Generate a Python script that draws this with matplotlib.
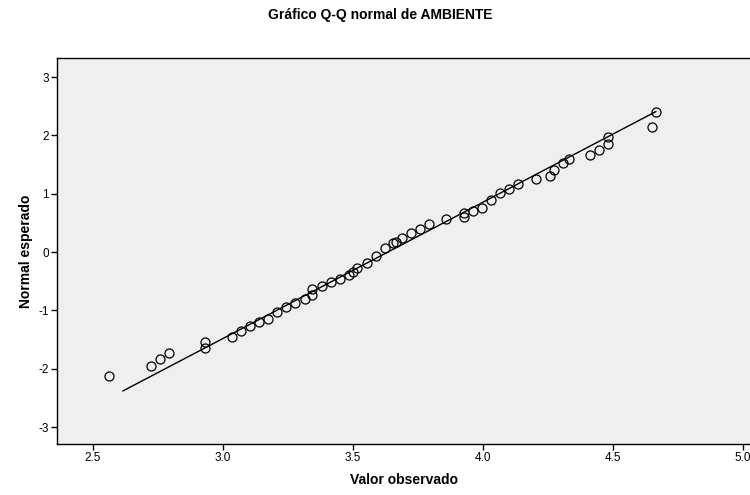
import matplotlib
matplotlib.use('Agg')
from matplotlib import pyplot as plt

### Data
# Observed values (x) and expected normal quantiles (y)
observed = [2.563, 2.724, 2.759, 2.793, 2.931, 2.931, 3.033, 3.069, 3.104, 3.138,
            3.173, 3.207, 3.241, 3.276, 3.315, 3.343, 3.343, 3.380, 3.414, 3.450,
            3.485, 3.499, 3.517, 3.553, 3.587, 3.622, 3.655, 3.664, 3.688, 3.723,
            3.758, 3.792, 3.858, 3.928, 3.928, 3.963, 3.997, 4.032, 4.067, 4.101,
            4.136, 4.205, 4.258, 4.274, 4.309, 4.331, 4.412, 4.446, 4.480, 4.480,
            4.651, 4.665]
expected = [-2.12, -1.955, -1.83, -1.73, -1.64, -1.54, -1.45, -1.36, -1.27, -1.205,
            -1.14, -1.03, -0.94, -0.87, -0.81, -0.74, -0.64, -0.58, -0.51, -0.46,
            -0.39, -0.34, -0.28, -0.19, -0.06, 0.07, 0.15, 0.17, 0.235, 0.32,
            0.39, 0.485, 0.57, 0.61, 0.67, 0.71, 0.76, 0.90, 1.02, 1.075,
            1.17, 1.26, 1.31, 1.41, 1.52, 1.59, 1.66, 1.75, 1.85, 1.98,
            2.15, 2.40]

# Reference line end points
line_x = [2.615, 4.665]
line_y = [-2.38, 2.41]

xticks = [2.5, 3.0, 3.5, 4.0, 4.5, 5.0]
yticks = [-3, -2, -1, 0, 1, 2, 3]

### Plot parameters
plt.rcParams['font.family'] = ['Liberation Sans', 'DejaVu Sans']
# Plain hyphen for negative tick labels
plt.rcParams['axes.unicode_minus'] = False

fig = plt.figure(figsize=(7.5, 4.95), dpi=100)
ax = fig.add_axes([0.076, 0.103, 0.924, 0.780])
ax.set_facecolor('#efefef')

# Reference line and points
ax.plot(line_x, line_y, color='black', linewidth=1.0, zorder=2)
ax.plot(observed, expected, linestyle='none', marker='o', markersize=6.5,
        markerfacecolor='none', markeredgecolor='black', markeredgewidth=0.9, zorder=3)

# Axis limits and ticks
ax.set_xlim(2.3615, 5.027)
ax.set_ylim(-3.29, 3.33)
ax.set_xticks(xticks)
ax.set_xticklabels(['%.1f' % t for t in xticks])
ax.set_yticks(yticks)
ax.tick_params(direction='out', length=4, width=1, labelsize=8.5, colors='black', pad=2)

# Spines
for side in ['left', 'bottom', 'top']:
    ax.spines[side].set_linewidth(1.0)
    ax.spines[side].set_color('black')
ax.spines['right'].set_visible(False)

# Labels and title
ax.set_xlabel('Valor observado', fontsize=10, fontweight='bold', labelpad=6)
ax.set_ylabel('Normal esperado', fontsize=10, fontweight='bold', labelpad=4)
fig.text(0.507, 0.97, 'Gráfico Q-Q normal de AMBIENTE', ha='center', va='center',
         fontsize=10, fontweight='bold')

plt.savefig('out.png', dpi=100)
